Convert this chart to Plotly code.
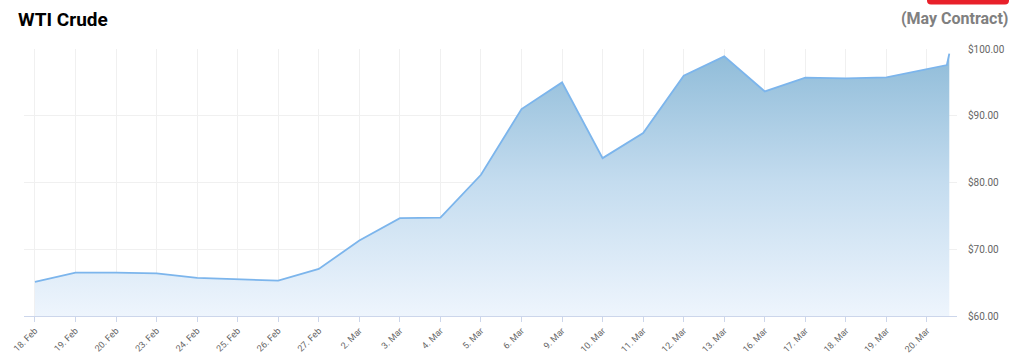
import plotly.graph_objects as go

# ---- data ----
dates = ["18. Feb", "19. Feb", "20. Feb", "23. Feb", "24. Feb", "25. Feb", "26. Feb",
         "27. Feb", "2. Mar", "3. Mar", "4. Mar", "5. Mar", "6. Mar", "9. Mar",
         "10. Mar", "11. Mar", "12. Mar", "13. Mar", "16. Mar", "17. Mar",
         "18. Mar", "19. Mar", "20. Mar"]
prices = [65.1, 66.5, 66.5, 66.4, 65.7, 65.5, 65.3, 67.05, 71.3, 74.65, 74.75,
          81.15, 91.0, 95.0, 83.65, 87.4, 96.0, 98.9, 93.65, 95.7, 95.6, 95.75, 97.0]
# latest intraday quotes after the 20 Mar close (fraction of a trading day later)
intraday_offsets = [0.49, 0.55]
intraday_prices = [97.6, 99.3]
y_ticks = [60, 70, 80, 90, 100]
y_tick_labels = ["$%.2f" % v for v in y_ticks]

x_vals = list(range(len(dates))) + [len(dates) - 1 + o for o in intraday_offsets]
y_vals = prices + intraday_prices

W, H = 1024, 353
L, R, T, B = 24, 67, 49, 37
pw = W - L - R
ph = H - T - B


def px(x):
    return (x - L) / pw


def py(y):
    return (H - B - y) / ph


fig = go.Figure()
fig.add_trace(go.Scatter(
    x=x_vals, y=y_vals, mode="lines",
    line=dict(color="#7cb5ec", width=1.8),
    fill="tozeroy",
    fillgradient=dict(type="vertical", start=60, stop=100,
                      colorscale=[[0, "rgba(238,245,253,1)"], [0.5, "#c4dcef"], [1, "#8ebbd8"]]),
    hoverinfo="x+y", showlegend=False,
))

fig.update_layout(
    width=W, height=H,
    margin=dict(l=L, r=R, t=T, b=B, autoexpand=False),
    paper_bgcolor="white", plot_bgcolor="white",
    font=dict(family="Roboto", color="#666666"),
    xaxis=dict(
        range=[-0.27, 22.74], automargin=False,
        tickmode="array", tickvals=list(range(len(dates))), ticktext=dates,
        tickangle=-45, tickfont=dict(size=9, color="#666666"),
        showgrid=True, gridcolor="#f0f0f0", gridwidth=1,
        showline=True, linecolor="#ccd6eb", linewidth=1,
        ticks="outside", ticklen=5, tickcolor="#ccd6eb",
        zeroline=False, fixedrange=True,
    ),
    yaxis=dict(
        range=[60, 100], side="right", automargin=False,
        tickmode="array", tickvals=y_ticks, ticktext=y_tick_labels,
        tickfont=dict(size=10, color="#666666"),
        showgrid=True, gridcolor="#f0f0f0", gridwidth=1,
        zeroline=False, showline=False, ticks="",
        ticklabelstandoff=10, fixedrange=True,
    ),
    annotations=[
        dict(text="<b>WTI Crude</b>", xref="paper", yref="paper",
             x=px(16), y=py(20), xanchor="left", yanchor="middle",
             showarrow=False, font=dict(family="Roboto", size=19, color="#000000")),
        dict(text="<b>(May Contract)</b>", xref="paper", yref="paper",
             x=px(1011), y=py(19), xanchor="right", yanchor="middle", showarrow=False,
             font=dict(family="Roboto", size=16, color="#808080")),
    ],
)

# red button partially visible at the top right (rounded bottom corners)
x0, x1, yb, r = px(927), px(1009), py(4.5), 4
rx, ry = r / pw, r / ph
path = (f"M {x0},{py(-2)} L {x0},{yb + ry} Q {x0},{yb} {x0 + rx},{yb} "
        f"L {x1 - rx},{yb} Q {x1},{yb} {x1},{yb + ry} L {x1},{py(-2)} Z")
fig.add_shape(type="path", xref="paper", yref="paper", path=path,
              fillcolor="#e8202a", line=dict(width=0), layer="above")

fig.write_html("out.html", config={"displayModeBar": False})
